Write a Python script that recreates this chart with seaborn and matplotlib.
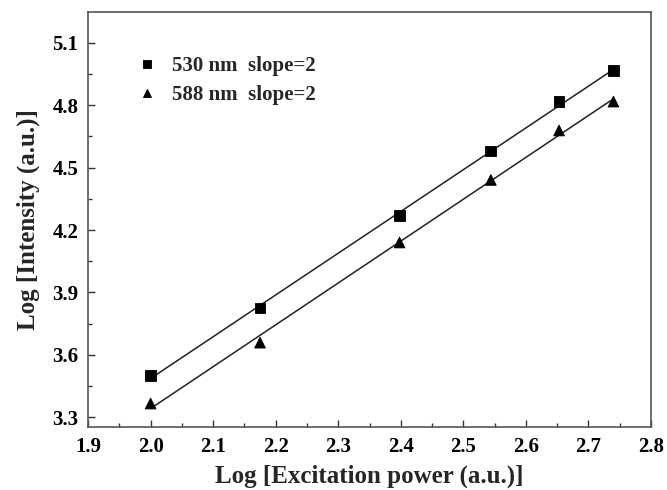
import numpy as np
import pandas as pd
import matplotlib
matplotlib.use('Agg')
import matplotlib.pyplot as plt
import seaborn as sns
from matplotlib.ticker import MultipleLocator

# Datos
log_power = [2.0, 2.175, 2.398, 2.544, 2.653, 2.740]
log_530 = [3.50, 3.825, 4.268, 4.580, 4.818, 4.966]
log_588 = [3.365, 3.658, 4.140, 4.441, 4.679, 4.818]
labels = ['530 nm  slope=2', '588 nm  slope=2']

sns.set_style('white')
plt.rcParams['font.family'] = ['Liberation Serif', 'DejaVu Serif']
plt.rcParams['font.weight'] = 'bold'

fig = plt.figure(figsize=(6.67, 4.9), dpi=100)
ax = fig.add_axes([0.132, 0.1286, 0.844, 0.846])

df = pd.DataFrame({
    'x': log_power * 2,
    'y': log_530 + log_588,
    'serie': [labels[0]] * len(log_power) + [labels[1]] * len(log_power),
})

# Ajuste lineal de cada serie
for lab, vals in zip(labels, [log_530, log_588]):
    m, b = np.polyfit(log_power, vals, 1)
    fit = pd.DataFrame({'x': log_power, 'y': np.polyval([m, b], log_power)})
    sns.lineplot(data=fit, x='x', y='y', ax=ax, color='#222222', lw=1.1)

sns.scatterplot(data=df, x='x', y='y', style='serie', markers=['s', '^'],
                color='black', s=60, edgecolor='black', ax=ax, zorder=3)

ax.set_xlim(1.9, 2.8)
ax.set_ylim(3.252, 5.247)
ax.xaxis.set_minor_locator(MultipleLocator(0.05))
ax.yaxis.set_minor_locator(MultipleLocator(0.15))
ax.tick_params(which='both', direction='in', top=False, right=False,
               bottom=True, left=True, colors='#333333', labelcolor='black')
ax.tick_params(which='major', length=5, width=1, labelsize=15, pad=7)
ax.tick_params(which='minor', length=3, width=1)
xt = np.arange(1.9, 2.81, 0.1)
yt = np.arange(3.3, 5.11, 0.3)
ax.set_xticks(xt)
ax.set_xticklabels([f'{v:.1f}' for v in xt], fontweight='bold')
ax.set_yticks(yt)
ax.set_yticklabels([f'{v:.1f}' for v in yt], fontweight='bold')
for sp in ax.spines.values():
    sp.set_color('#555555')
    sp.set_linewidth(1.2)

ax.set_xlabel('Log [Excitation power (a.u.)]', fontsize=18, fontweight='bold', labelpad=6)
ax.set_ylabel('Log [Intensity (a.u.)]', fontsize=18, fontweight='bold', labelpad=9)

leg = ax.legend(loc='upper left', bbox_to_anchor=(0.035, 0.94), frameon=False,
                prop={'size': 15, 'weight': 'bold'}, handletextpad=0.2,
                labelspacing=0.45, markerscale=0.75, title=None)

fig.savefig('out.png', dpi=100)
